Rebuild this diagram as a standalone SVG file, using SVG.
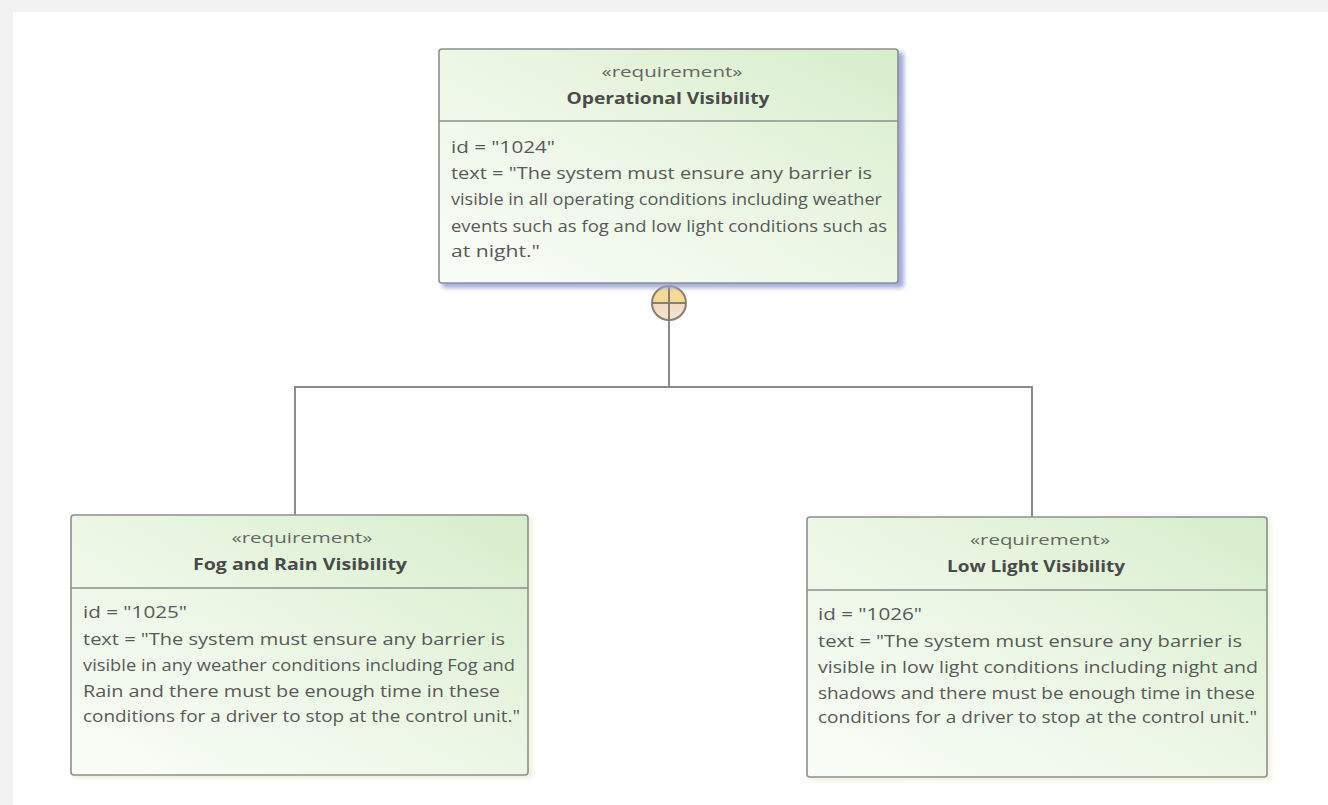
<svg xmlns="http://www.w3.org/2000/svg" width="1328" height="805" viewBox="0 0 1328 805">
  <defs>
    <linearGradient id="nodeFill" x1="0" y1="1" x2="1" y2="0">
      <stop offset="0" stop-color="#fafdf8"/>
      <stop offset="0.55" stop-color="#eaf6e3"/>
      <stop offset="1" stop-color="#d6edcb"/>
    </linearGradient>
    <linearGradient id="circFill" x1="0" y1="0" x2="0" y2="1">
      <stop offset="0" stop-color="#f6de95"/>
      <stop offset="0.5" stop-color="#f1d89a"/>
      <stop offset="0.5" stop-color="#f2d8c2"/>
      <stop offset="1" stop-color="#f6e6d8"/>
    </linearGradient>
    <filter id="blur" x="-5%" y="-5%" width="110%" height="110%">
      <feGaussianBlur stdDeviation="2"/>
    </filter>
  </defs>
  <style>
    .box { fill: url(#nodeFill); stroke: #8e8e8e; stroke-width: 1.6; }
    .sep { stroke: #8e8e8e; stroke-width: 1.4; }
    .st { font-family: "Open Sans", "Noto Sans", sans-serif; font-size: 15px; fill: #666; text-anchor: middle; }
    .nm { font-family: "Open Sans", "Noto Sans", sans-serif; font-size: 16px; font-weight: bold; fill: #4a4a4a; text-anchor: middle; }
    .tx { font-family: "Open Sans", "Noto Sans", sans-serif; font-size: 16.5px; fill: #595959; }
    .conn { fill: none; stroke: #8a8a92; stroke-width: 2; }
  </style>

  <rect x="0" y="0" width="1328" height="805" fill="#f2f2f2"/>
  <rect x="13" y="12" width="1315" height="793" fill="#ffffff"/>

  <g id="connectors">
    <polyline class="conn" points="669,320 669,387"/>
    <polyline class="conn" points="295,515 295,387 1032,387 1032,517"/>
    <circle cx="669" cy="303" r="17" fill="url(#circFill)" stroke="#8a7d70" stroke-width="2"/>
    <line x1="652" y1="303" x2="686" y2="303" stroke="#8a7d70" stroke-width="2"/>
    <line x1="669" y1="286" x2="669" y2="320" stroke="#8a7d70" stroke-width="2"/>
  </g>

  <g id="node-operational-visibility">
    <rect x="442" y="52" width="462" height="236" rx="3" fill="#9aa4dc" filter="url(#blur)" opacity="0.9"/>
    <rect class="box" x="439" y="49" width="459" height="234" rx="3"/>
    <line class="sep" x1="439" y1="121" x2="898" y2="121"/>
    <text class="st" x="672" y="77" textLength="141" lengthAdjust="spacingAndGlyphs">«requirement»</text>
    <text class="nm" x="668" y="104" textLength="203" lengthAdjust="spacingAndGlyphs">Operational Visibility</text>
    <text class="tx" x="451" y="153" textLength="104" lengthAdjust="spacingAndGlyphs">id = "1024"</text>
    <text class="tx" x="451" y="179" textLength="421" lengthAdjust="spacingAndGlyphs">text = "The system must ensure any barrier is</text>
    <text class="tx" x="451" y="205" textLength="431" lengthAdjust="spacingAndGlyphs">visible in all operating conditions including weather</text>
    <text class="tx" x="451" y="232" textLength="436" lengthAdjust="spacingAndGlyphs">events such as fog and low light conditions such as</text>
    <text class="tx" x="451" y="257" textLength="89" lengthAdjust="spacingAndGlyphs">at night."</text>
  </g>

  <g id="node-fog-and-rain-visibility">
    <rect x="73" y="518" width="460" height="261" rx="3" fill="#eef2d6" filter="url(#blur)" opacity="0.8"/>
    <rect class="box" x="71" y="515" width="457" height="260" rx="3"/>
    <line class="sep" x1="71" y1="588" x2="528" y2="588"/>
    <text class="st" x="302" y="543" textLength="141" lengthAdjust="spacingAndGlyphs">«requirement»</text>
    <text class="nm" x="300" y="570" textLength="214" lengthAdjust="spacingAndGlyphs">Fog and Rain Visibility</text>
    <text class="tx" x="83" y="618" textLength="104" lengthAdjust="spacingAndGlyphs">id = "1025"</text>
    <text class="tx" x="83" y="645" textLength="422" lengthAdjust="spacingAndGlyphs">text = "The system must ensure any barrier is</text>
    <text class="tx" x="83" y="671" textLength="432" lengthAdjust="spacingAndGlyphs">visible in any weather conditions including Fog and</text>
    <text class="tx" x="83" y="697" textLength="417" lengthAdjust="spacingAndGlyphs">Rain and there must be enough time in these</text>
    <text class="tx" x="83" y="722" textLength="437" lengthAdjust="spacingAndGlyphs">conditions for a driver to stop at the control unit."</text>
  </g>

  <g id="node-low-light-visibility">
    <rect x="809" y="520" width="462" height="261" rx="3" fill="#eef2d6" filter="url(#blur)" opacity="0.8"/>
    <rect class="box" x="807" y="517" width="460" height="260" rx="3"/>
    <line class="sep" x1="807" y1="590" x2="1267" y2="590"/>
    <text class="st" x="1040" y="545" textLength="140" lengthAdjust="spacingAndGlyphs">«requirement»</text>
    <text class="nm" x="1036" y="572" textLength="178" lengthAdjust="spacingAndGlyphs">Low Light Visibility</text>
    <text class="tx" x="818" y="620" textLength="104" lengthAdjust="spacingAndGlyphs">id = "1026"</text>
    <text class="tx" x="818" y="647" textLength="424" lengthAdjust="spacingAndGlyphs">text = "The system must ensure any barrier is</text>
    <text class="tx" x="818" y="673" textLength="440" lengthAdjust="spacingAndGlyphs">visible in low light conditions including night and</text>
    <text class="tx" x="818" y="699" textLength="437" lengthAdjust="spacingAndGlyphs">shadows and there must be enough time in these</text>
    <text class="tx" x="818" y="723" textLength="439" lengthAdjust="spacingAndGlyphs">conditions for a driver to stop at the control unit."</text>
  </g>
</svg>
